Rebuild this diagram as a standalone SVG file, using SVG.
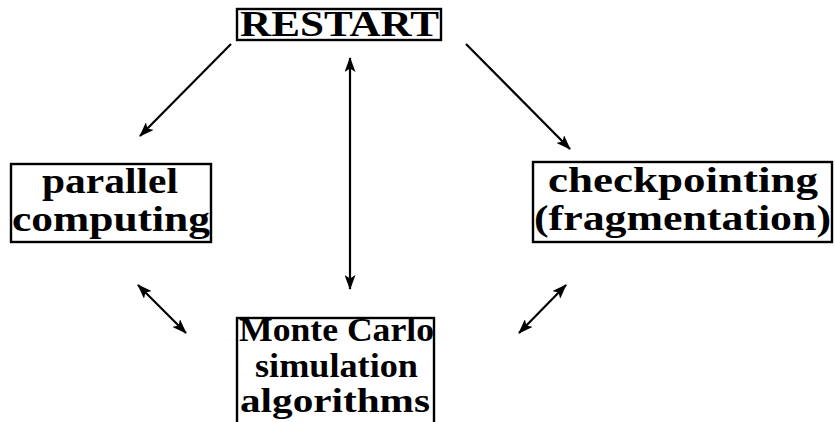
<svg xmlns="http://www.w3.org/2000/svg" width="835" height="422" viewBox="0 0 835 422">
<defs>
<style>
.box{fill:#fff;stroke:#000;stroke-width:2.4}
.t{font-family:"Liberation Serif","Times New Roman",serif;font-weight:bold;font-size:36px;fill:#000}
.m{font-size:33px}
.c{stroke:#000;stroke-width:2.2;fill:none}
</style>
<marker id="ah" viewBox="0 0 15 11" refX="14" refY="5.5" markerWidth="15" markerHeight="11" markerUnits="userSpaceOnUse" orient="auto-start-reverse">
<path d="M0,0 L15,5.5 L0,11 L3.5,5.5 Z" fill="#000"/>
</marker>
</defs>
<rect width="835" height="422" fill="#fff"/>
<g id="restart">
<rect class="box" x="237" y="9" width="204" height="31"/>
<text class="t" x="240" y="36" textLength="199" lengthAdjust="spacingAndGlyphs">RESTART</text>
</g>
<g id="parallel">
<rect class="box" x="11" y="164" width="200" height="78"/>
<text class="t" x="42" y="193" textLength="136" lengthAdjust="spacingAndGlyphs">parallel</text>
<text class="t" x="12" y="231" textLength="198" lengthAdjust="spacingAndGlyphs">computing</text>
</g>
<g id="checkpointing">
<rect class="box" x="533" y="162" width="299" height="80"/>
<text class="t" x="548" y="192" textLength="270" lengthAdjust="spacingAndGlyphs">checkpointing</text>
<text class="t" x="534" y="230" textLength="297" lengthAdjust="spacingAndGlyphs">(fragmentation)</text>
</g>
<g id="montecarlo">
<rect class="box" x="237" y="318" width="197" height="120"/>
<text class="t m" x="239" y="341" textLength="195" lengthAdjust="spacingAndGlyphs">Monte Carlo</text>
<text class="t m" x="255" y="377" textLength="163" lengthAdjust="spacingAndGlyphs">simulation</text>
<text class="t m" x="240" y="412" textLength="190" lengthAdjust="spacingAndGlyphs">algorithms</text>
</g>
<g id="connectors">
<line class="c" x1="231" y1="44" x2="140" y2="136" marker-end="url(#ah)"/>
<line class="c" x1="466" y1="44" x2="570" y2="149" marker-end="url(#ah)"/>
<line class="c" x1="350" y1="58" x2="350" y2="289" marker-start="url(#ah)" marker-end="url(#ah)"/>
<line class="c" x1="138" y1="285" x2="186" y2="333" marker-start="url(#ah)" marker-end="url(#ah)"/>
<line class="c" x1="566" y1="285" x2="519" y2="333" marker-start="url(#ah)" marker-end="url(#ah)"/>
</g>
</svg>
